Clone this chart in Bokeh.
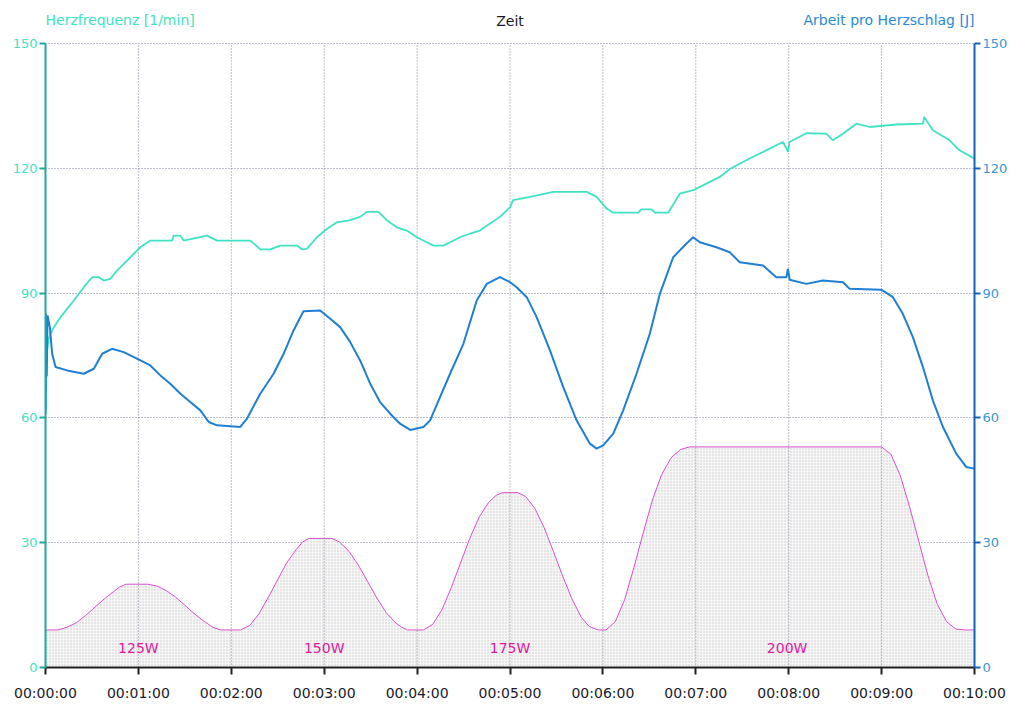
from bokeh.plotting import figure
from bokeh.models import Range1d, LinearAxis, FixedTicker, Label
from bokeh.embed import file_html
from bokeh.resources import INLINE

# ---------------- data ----------------
tick_seconds = [0, 60, 120, 180, 240, 300, 360, 420, 480, 540, 600]
tick_labels = ["00:00:00", "00:01:00", "00:02:00", "00:03:00", "00:04:00", "00:05:00",
               "00:06:00", "00:07:00", "00:08:00", "00:09:00", "00:10:00"]
y_ticks = [0, 30, 60, 90, 120, 150]

# Herzfrequenz [1/min]
hr_t = [0, 1, 2, 5.4, 9.7, 18.3, 24.7, 30.1, 34.4, 37.6, 41.9, 46.2, 52.7, 61.3, 67.7,
        81.7, 82.8, 87, 89.2, 104.3, 110.8, 132.3, 138.7, 145.2, 151.6, 162.4, 165.6,
        168.8, 175.3, 181.7, 188.2, 196.8, 203.2, 207.5, 215, 220.4, 226.9, 233.3, 239.8,
        246.3, 250.5, 257, 261.3, 267.7, 274.2, 280.6, 287.1, 293.5, 300, 302, 312.9, 328,
        349.5, 355.9, 362.4, 366.7, 382.8, 384.9, 391.4, 393.5, 402.2, 409.7, 418.3, 426.9,
        435.5, 442, 450.5, 459, 467.7, 476.3, 479.6, 480.5, 491.4, 504.3, 508.6, 515, 523.7,
        532.3, 549.5, 566.7, 567.5, 573.1, 583.9, 590.3, 600]
hr_v = [62, 76, 79, 81.8, 84.2, 88.2, 91.4, 93.8, 93.8, 93.0, 93.4, 95.4, 97.8, 101.0, 102.6,
        102.6, 103.8, 103.8, 102.6, 103.8, 102.6, 102.6, 100.5, 100.5, 101.4, 101.4, 100.5,
        100.6, 103.4, 105.4, 107.0, 107.5, 108.3, 109.5, 109.5, 107.5, 105.8, 105.0, 103.4,
        102.2, 101.4, 101.4, 102.2, 103.4, 104.3, 105.0, 106.7, 108.3, 110.6, 112.3, 113.1, 114.3,
        114.3, 113.1, 110.3, 109.3, 109.3, 110.1, 110.1, 109.3, 109.3, 113.9, 114.7, 116.3,
        117.9, 119.8, 121.5, 123.1, 124.7, 126.3, 123.9, 126.3, 128.4, 128.3, 126.7, 128.3, 130.7,
        129.9, 130.5, 130.7, 132.3, 129.1, 126.7, 124.3, 122.3]

# Arbeit pro Herzschlag [J]
work_t = [0, 0.3, 0.8, 1.3, 2.8, 4.3, 6.5, 14, 24.7, 31.2, 36.6, 43, 50.5, 54.8, 61.3, 67.7,
          74.2, 80.6, 87.1, 93.5, 100, 105.4, 110.8, 125.8, 130.1, 138.7, 147.3, 153.8, 160.2,
          166.6, 177.4, 183.9, 190.3, 196.8, 203.2, 209.7, 216.1, 222.6, 229, 235.5, 244.1,
          248.4, 254.8, 261.3, 269.9, 278.5, 285, 293.5, 300, 304.3, 310.8, 317.2, 325.8, 334.4,
          343, 351.6, 355.9, 360.2, 366.7, 373.1, 381.7, 390.3, 396.8, 405.4, 414, 418.3, 422.6,
          433.3, 441.9, 448.4, 463.4, 472, 478.5, 479.5, 480.6, 491.4, 502.1, 515, 519.4, 539.8,
          547.3, 553.7, 560.2, 566.7, 573.1, 579.6, 588.2, 594.6, 600]
work_v = [61, 85, 70, 84.6, 81.8, 75.4, 72.2, 71.4, 70.6, 71.8, 75.4, 76.6, 75.8, 75.0, 73.8, 72.6,
          70.2, 68.2, 65.8, 63.8, 61.8, 59.0, 58.2, 57.8, 59.8, 65.8, 70.6, 75.4, 81.0,
          85.6, 85.8, 83.8, 81.8, 78.2, 73.8, 68.2, 63.8, 61.0, 58.6, 57.1, 57.8,
          59.4, 65.0, 70.6, 77.8, 88.2, 92.2, 93.8, 92.6, 91.4, 89.0, 84.2, 76.2, 67.4,
          59.4, 53.8, 52.6, 53.4, 56.2, 61.8, 70.6, 80.2, 89.8, 98.6, 101.9, 103.4, 102.2,
          101.0, 99.8, 97.4, 96.6, 93.8, 93.8, 95.8, 93.2, 92.2, 93.0, 92.6, 91.0, 90.8,
          89.0, 85.0, 79.4, 72.2, 64.2, 57.8, 51.4, 48.2, 47.8]

# Leistung [W]
power_t = [0, 8, 14, 20, 26, 32, 38, 44, 48, 52, 66, 72, 78, 84, 90, 96, 102, 108, 113, 126,
           132, 138, 144, 150, 156, 162, 166, 170, 185, 190, 196, 202, 208, 214, 220, 226, 230,
           234, 244, 250, 256, 262, 268, 274, 280, 286, 291, 295, 305, 310, 316, 322, 328, 334,
           340, 346, 351, 357, 362, 368, 374, 380, 386, 392, 398, 404, 410, 416, 540, 546, 552,
           558, 564, 570, 576, 582, 588, 594, 600]
power_w = [100, 100, 101.5, 104, 108, 112.5, 117, 121, 123.5, 125, 125, 124, 121.5, 118, 113.5,
           109, 105, 101.5, 100, 100, 102.5, 109, 118, 127.5, 137, 144, 148, 150, 150, 148, 143,
           135.5, 126.5, 117.5, 109.5, 104, 101.5, 100, 100, 103, 111, 123, 136.5, 150, 161.5,
           169.5, 173.5, 175, 175, 173, 166.5, 156, 143, 129.5, 117, 107, 102, 100, 100, 104.5,
           116.5, 134, 153, 171, 185, 194, 198.5, 200, 200, 196, 184.5, 167.5, 148.5, 129.5,
           114, 104.5, 100.5, 100, 100]

stage_labels = ["125W", "150W", "175W", "200W"]
stage_t = [60, 180, 300, 479]

# ---------------- styling ----------------
TEAL = "#3fe3c3"
TEAL_AX = "#1fa8a0"
BLUE = "#1f7fd4"
BLUE_AX = "#1560c0"
MAGENTA = "#d84fd0"
LABEL_MAG = "#e0189c"
GRID = "#6e6e98"
FONT = "DejaVu Sans"

Y_TOP = 159.1          # a little headroom above 150 for the header texts
P_LO = 79.5            # power scale: 0 on the left axis
P_HI = P_LO + Y_TOP / 0.44

p = figure(width=1010, height=706, output_backend="svg", toolbar_location=None,
           x_range=Range1d(0, 600), y_range=Range1d(0, Y_TOP),
           min_border_left=45, min_border_right=35, min_border_top=5, min_border_bottom=39,
           background_fill_color="white", border_fill_color="white")
p.outline_line_color = None
p.extra_y_ranges = {"work": Range1d(0, Y_TOP), "power": Range1d(P_LO, P_HI)}

# stippled power area
p.varea(x=power_t, y1=P_LO, y2=power_w, y_range_name="power",
        fill_color="#f6f6f6", hatch_pattern="dot", hatch_color="#c4c4c4",
        hatch_scale=3, hatch_weight=0.7, hatch_alpha=0.85)
p.line(power_t, power_w, y_range_name="power", line_color=MAGENTA, line_width=1)

# vertical grid lines (only up to 150)
p.segment(x0=tick_seconds, y0=[0] * len(tick_seconds), x1=tick_seconds,
          y1=[150] * len(tick_seconds), line_color=GRID, line_dash="1 2", line_width=1,
          line_alpha=0.9)

p.line(hr_t, hr_v, line_color=TEAL, line_width=1.8)
p.line(work_t, work_v, y_range_name="work", line_color=BLUE, line_width=2)

for lab, t in zip(stage_labels, stage_t):
    p.add_layout(Label(x=t, y=4.6, text=lab, text_align="center", text_baseline="middle",
                       text_color=LABEL_MAG, text_font=FONT, text_font_size="14px"))

# x axis
xa = p.xaxis[0]
xa.ticker = FixedTicker(ticks=tick_seconds)
xa.major_label_overrides = {t: l for t, l in zip(tick_seconds, tick_labels)}
xa.axis_line_color = "#202020"
xa.axis_line_width = 2
xa.major_tick_line_color = "#202020"
xa.major_tick_line_width = 2
xa.major_tick_in = 0
xa.major_tick_out = 7
xa.minor_tick_line_color = None
xa.major_label_standoff = 10
xa.major_label_text_font = FONT
xa.major_label_text_font_size = "14px"
xa.major_label_text_color = "#1a1a2a"

# left axis
ya = p.yaxis[0]
ya.ticker = FixedTicker(ticks=y_ticks)
ya.bounds = (0, 150)
ya.axis_line_color = TEAL_AX
ya.axis_line_width = 2
ya.major_tick_line_color = TEAL_AX
ya.major_tick_line_width = 2
ya.major_tick_in = 0
ya.major_tick_out = 6
ya.minor_tick_line_color = None
ya.major_label_standoff = 2
ya.major_label_text_font = FONT
ya.major_label_text_font_size = "13px"
ya.major_label_text_color = TEAL

# right axis
ra = LinearAxis(y_range_name="work", ticker=FixedTicker(ticks=y_ticks), bounds=(0, 150))
ra.axis_line_color = BLUE_AX
ra.axis_line_width = 2
ra.major_tick_line_color = BLUE_AX
ra.major_tick_line_width = 2
ra.major_tick_in = 0
ra.major_tick_out = 6
ra.minor_tick_line_color = None
ra.major_label_standoff = 2
ra.major_label_text_font = FONT
ra.major_label_text_font_size = "13px"
ra.major_label_text_color = "#3a96dc"
p.add_layout(ra, "right")

# horizontal grid
p.xgrid.visible = False
g = p.ygrid[0]
g.ticker = FixedTicker(ticks=y_ticks)
g.grid_line_color = GRID
g.grid_line_dash = "1 2"
g.grid_line_width = 1
g.grid_line_alpha = 0.9

# header texts
p.add_layout(Label(x=0, y=150, y_offset=23, text="Herzfrequenz [1/min]", text_align="left",
                   text_baseline="middle", text_color=TEAL, text_font=FONT, text_font_size="14px"))
p.add_layout(Label(x=300, y=150, y_offset=22, text="Zeit", text_align="center",
                   text_baseline="middle", text_color="#1a1a2a", text_font=FONT, text_font_size="14px"))
p.add_layout(Label(x=600, y=150, y_offset=23, text="Arbeit pro Herzschlag [J]", text_align="right",
                   text_baseline="middle", text_color="#2a8ad6", text_font=FONT, text_font_size="14px"))

open("out.html", "w").write(file_html(p, INLINE))
